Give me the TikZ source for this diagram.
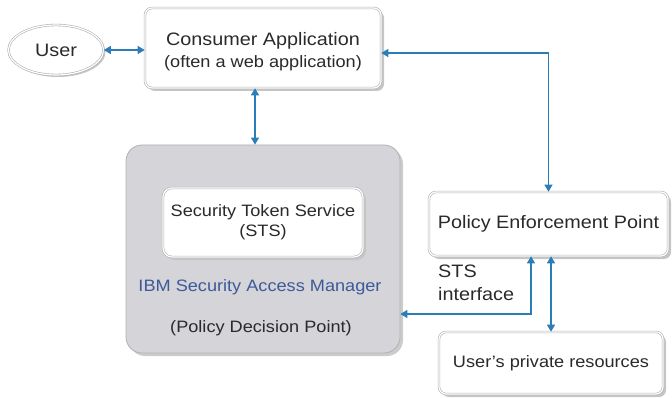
\documentclass[tikz,border=0pt]{standalone}
\usepackage{fontspec}
\setmainfont{Liberation Sans}[FakeStretch=1.1]
\usetikzlibrary{arrows.meta,shadows,shapes.geometric}
\definecolor{arrblue}{HTML}{2B7DB8}
\definecolor{ibmblue}{HTML}{3D5A99}
\definecolor{boxgray}{HTML}{D4D4D9}
\definecolor{txt}{HTML}{2A2A2A}
\tikzset{
  bigfont/.style={font=\fontsize{18}{23}\selectfont},
  smallfont/.style={font=\fontsize{16.5}{20}\selectfont},
  whitebox/.style={rectangle, rounded corners=7pt, draw=gray!60, line width=0.6pt,
    double=white, double distance=1.2pt, fill=white, text=txt, align=center,
    inner sep=0pt, drop shadow={shadow xshift=3pt, shadow yshift=-3pt, fill=gray!45, opacity=1}},
  graybox/.style={rectangle, rounded corners=16pt, draw=gray!60, line width=0.8pt,
    fill=boxgray, inner sep=0pt,
    drop shadow={shadow xshift=3pt, shadow yshift=-3pt, fill=gray!40, opacity=1}},
  ellbox/.style={ellipse, draw=gray!60, line width=0.6pt, double=white, double distance=1.2pt,
    fill=white, text=txt, inner sep=0pt,
    drop shadow={shadow xshift=2pt, shadow yshift=-2pt, fill=gray!45, opacity=1}},
  arr/.style={draw=arrblue, line width=1.1pt,
    {Triangle[width=8pt,length=7pt]}-{Triangle[width=8pt,length=7pt]}},
  plain/.style={text=txt, inner sep=0pt, align=center}
}
\begin{document}
\begin{tikzpicture}[x=1pt,y=-1pt]
\useasboundingbox (0,0) rectangle (672,398);
% nodes
\node[ellbox, minimum width=95pt, minimum height=50pt, bigfont] (user) at (56,50) {User};
\node[whitebox, minimum width=236pt, minimum height=80pt] (cons) at (263,48) {};
\node[plain, bigfont] (const) at (263,52)
  {Consumer Application\\[-1pt]{\fontsize{16.5}{20}\selectfont (often a web application)}};
\node[graybox, minimum width=274pt, minimum height=208pt] (ibm) at (263,249) {};
\node[whitebox, rounded corners=9pt, minimum width=200pt, minimum height=69pt, smallfont] (sts) at (263,222.5)
  {Security Token Service\\(STS)};
\node[plain, smallfont, text=ibmblue] (ibmt) at (260,287) {IBM Security Access Manager};
\node[plain, smallfont] (pdp) at (261,328) {(Policy Decision Point)};
\node[whitebox, minimum width=239pt, minimum height=64pt, bigfont] (pep) at (548.5,224) {Policy Enforcement Point};
\node[whitebox, minimum width=224pt, minimum height=62pt, smallfont] (upr) at (551,363) {User's private resources};
\node[plain, bigfont, align=left, anchor=north west] (stsi) at (438,265) {STS\\interface};
% helper coordinates
\coordinate (c1) at (0,53);
\coordinate (c2) at (531,314);
% connectors
\draw[arr] (user.east) -- (cons.west |- user.east);
\draw[arr] (cons.south -| 255,0) -- (ibm.north -| 255,0);
\draw[arr] (cons.east |- c1) -| (pep.north);
\draw[arr] (pep.south -| c2) |- (ibm.east |- c2);
\draw[arr] (upr.north |- pep.south) -- (upr.north);
\end{tikzpicture}
\end{document}
